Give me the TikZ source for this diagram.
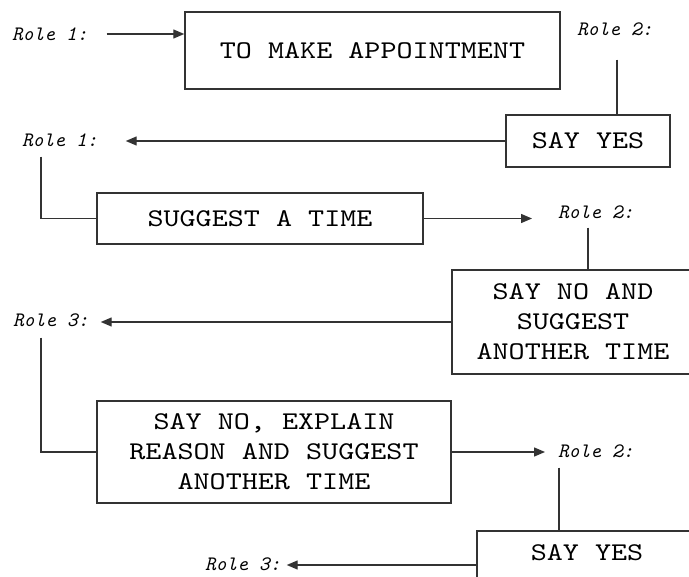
\documentclass[tikz,border=0pt]{standalone}
\usepackage{fontspec}
\usetikzlibrary{arrows.meta}
\newfontfamily\boxfont{lmmono10-regular.otf}[FakeStretch=1.2]
\newfontfamily\rolefont{lmmono10-italic.otf}
\tikzset{
  box/.style={draw=black!80, line width=1.5pt, font=\boxfont\fontsize{25.5}{30}\selectfont, align=center, inner sep=0pt},
  role/.style={font=\rolefont\fontsize{20.5}{24}\selectfont, inner sep=0pt, anchor=west},
  conn/.style={draw=black!80, line width=1.4pt},
  arr/.style={conn, -{Triangle[length=11pt,width=9pt]}}
}
\begin{document}
\begin{tikzpicture}[x=1pt,y=-1pt]
\useasboundingbox (0,0) rectangle (689,577);
\fill[white] (0,0) rectangle (689,577);
\clip (0,0) rectangle (689,577);
% boxes
\node[box, minimum width=375pt, minimum height=77pt] (b1) at (372.5,50.5) {TO MAKE APPOINTMENT};
\node[box, minimum width=164pt, minimum height=52pt] (sy1) at (588,141) {SAY YES};
\node[box, minimum width=326pt, minimum height=51pt] (st) at (260,218.5) {SUGGEST A TIME};
\node[box, minimum width=242pt, minimum height=104pt] (sn) at (573,322) {SAY NO AND\\SUGGEST\\ANOTHER TIME};
\node[box, minimum width=354pt, minimum height=102pt] (se) at (274,452) {SAY NO, EXPLAIN\\REASON AND SUGGEST\\ANOTHER TIME};
\node[box, minimum width=220pt, minimum height=68pt, text height=15pt, text depth=24pt] (sy2) at (587,565) {SAY YES};
% role labels
\node[role] (r1a) at (12,34) {Role 1:};
\node[role] (r2a) at (577,29) {Role 2:};
\node[role] (r1b) at (22,140) {Role 1:};
\node[role] (r2b) at (558,212) {Role 2:};
\node[role] (r3a) at (13,320) {Role 3:};
\node[role] (r2c) at (558,451) {Role 2:};
\node[role] (r3b) at (205,564) {Role 3:};
% connectors
\draw[arr, shorten <=19pt] (r1a.east) -- (r1a.east -| b1.west);
\coordinate (c2a) at ([xshift=2pt]r2a.south);
\draw[conn, shorten <=24pt] (c2a) -- (c2a |- sy1.north);
\draw[arr, shorten >=28pt] (sy1.west) -- (sy1.west -| r1b.east);
\coordinate (c1b) at ([xshift=19pt]r1b.south west);
\draw[conn] (c1b) ++(0,10) |- (st.west);
\draw[arr, shorten >=26pt] (st.east) -- (st.east -| r2b.west);
\coordinate (c2b) at ([xshift=-8pt]r2b.south);
\draw[conn, shorten <=9pt] (c2b) -- (c2b |- sn.north);
\draw[arr, shorten >=12pt] (sn.west) -- (sn.west -| r3a.east);
\coordinate (c3a) at ([xshift=28pt]r3a.south west);
\draw[conn] (c3a) ++(0,11) |- (se.west);
\draw[arr, shorten >=13pt] (se.east) -- (se.east -| r2c.west);
\coordinate (c2c) at ([xshift=1pt]r2c.south west);
\draw[conn, shorten <=10pt] (c2c) -- (c2c |- sy2.north);
\draw[arr, shorten >=6pt] (sy2.west) -- (sy2.west -| r3b.east);
\end{tikzpicture}
\end{document}
